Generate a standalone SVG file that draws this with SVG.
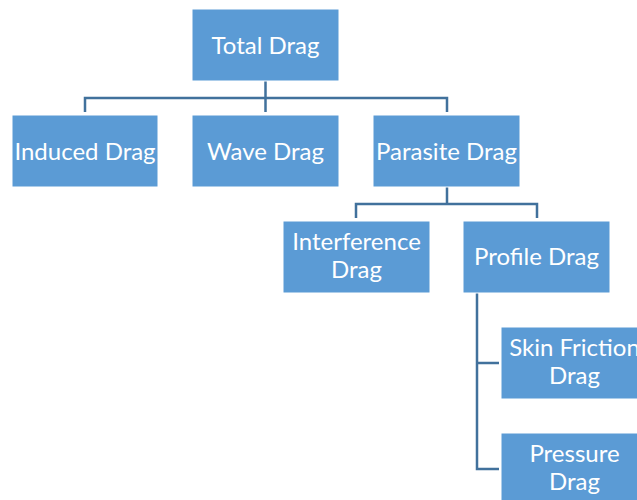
<svg xmlns="http://www.w3.org/2000/svg" width="637" height="500" viewBox="0 0 637 500">
<style>
.box{fill:#5B9BD5;stroke:#FFFFFF;stroke-width:1}
.t{fill:#FFFFFF;font-family:Lato,"Open Sans","Liberation Sans",sans-serif;font-size:24px;text-anchor:middle}
.c{fill:none;stroke:#41719C;stroke-width:2.5}
</style>
<rect width="637" height="500" fill="#FFFFFF"/>
<g id="connectors">
<path class="c" d="M265.5,81 V98 M85,112 V98 H447 V112 M265.5,98 V112"/>
<path class="c" d="M447,187 V204 M356,218 V204 H537 V218"/>
<path class="c" d="M477,293 V469 H499 M477,363 H499"/>
</g>
<g id="total"><rect class="box" x="192" y="9" width="147" height="72"/><text class="t" x="265.5" y="53.5">Total Drag</text></g>
<g id="induced"><rect class="box" x="12" y="115" width="146" height="72"/><text class="t" x="85" y="159.5">Induced Drag</text></g>
<g id="wave"><rect class="box" x="192" y="115" width="147" height="72"/><text class="t" x="265.5" y="159.5">Wave Drag</text></g>
<g id="parasite"><rect class="box" x="373" y="115" width="147" height="72"/><text class="t" x="446.5" y="159.5">Parasite Drag</text></g>
<g id="interference"><rect class="box" x="283" y="221" width="147" height="72"/><text class="t" x="356.5" y="250">Interference</text><text class="t" x="356.5" y="278">Drag</text></g>
<g id="profile"><rect class="box" x="463" y="221" width="147" height="72"/><text class="t" x="536.5" y="265">Profile Drag</text></g>
<g id="skin"><rect class="box" x="501" y="327" width="147" height="72"/><text class="t" x="574.5" y="355.5">Skin Friction</text><text class="t" x="574.5" y="383.5">Drag</text></g>
<g id="pressure"><rect class="box" x="501" y="433" width="147" height="72"/><text class="t" x="574.5" y="462">Pressure</text><text class="t" x="574.5" y="490">Drag</text></g>
</svg>
